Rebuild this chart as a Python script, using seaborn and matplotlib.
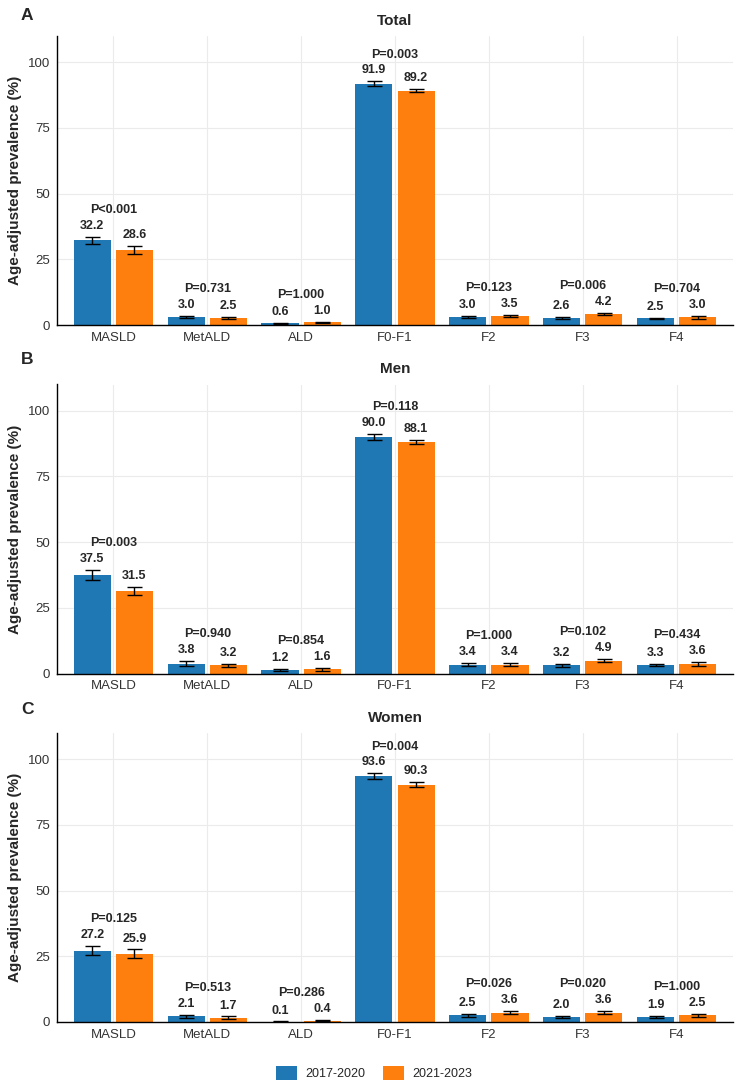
import numpy as np
import pandas as pd
import matplotlib
matplotlib.use("Agg")
import matplotlib.pyplot as plt
from matplotlib.patches import Patch
import seaborn as sns

# data
categories = ["MASLD", "MetALD", "ALD", "F0-F1", "F2", "F3", "F4"]
periods = ["2017-2020", "2021-2023"]
panels = ["Total", "Men", "Women"]
letters = ["A", "B", "C"]

total_early = [32.2, 3.0, 0.6, 91.9, 3.0, 2.6, 2.5]
total_late = [28.6, 2.5, 1.0, 89.2, 3.5, 4.2, 3.0]
total_err_early = [1.4, 0.5, 0.3, 0.8, 0.5, 0.4, 0.3]
total_err_late = [1.5, 0.4, 0.3, 0.6, 0.4, 0.4, 0.6]
total_p = ["P<0.001", "P=0.731", "P=1.000", "P=0.003", "P=0.123", "P=0.006", "P=0.704"]

men_early = [37.5, 3.8, 1.2, 90.0, 3.4, 3.2, 3.3]
men_late = [31.5, 3.2, 1.6, 88.1, 3.4, 4.9, 3.6]
men_err_early = [1.8, 0.8, 0.4, 1.0, 0.6, 0.6, 0.5]
men_err_late = [1.6, 0.6, 0.5, 0.9, 0.6, 0.7, 0.7]
men_p = ["P=0.003", "P=0.940", "P=0.854", "P=0.118", "P=1.000", "P=0.102", "P=0.434"]

women_early = [27.2, 2.1, 0.1, 93.6, 2.5, 2.0, 1.9]
women_late = [25.9, 1.7, 0.4, 90.3, 3.6, 3.6, 2.5]
women_err_early = [1.7, 0.6, 0.1, 1.0, 0.5, 0.4, 0.5]
women_err_late = [1.7, 0.4, 0.2, 0.9, 0.6, 0.5, 0.6]
women_p = ["P=0.125", "P=0.513", "P=0.286", "P=0.004", "P=0.026", "P=0.020", "P=1.000"]

colors = ["#1F77B4", "#FF7F0E"]

panel_data = {
    "Total": (total_early, total_late, total_err_early, total_err_late, total_p),
    "Men": (men_early, men_late, men_err_early, men_err_late, men_p),
    "Women": (women_early, women_late, women_err_early, women_err_late, women_p),
}

sns.set_style("white")
plt.rcParams["font.family"] = ["Liberation Sans", "DejaVu Sans"]

fig = plt.figure(figsize=(7.38, 10.87), dpi=100)
W, H = 738, 1087
tops = [36, 384.5, 733]
letter_y = [15, 360, 710]
ax_h = 289

for i, name in enumerate(panels):
    early, late, err_e, err_l, pvals = panel_data[name]
    top = tops[i]
    ax = fig.add_axes([57 / W, 1 - (top + ax_h) / H, (733 - 57) / W, ax_h / H])

    df = pd.DataFrame({
        "category": categories * 2,
        "period": [periods[0]] * 7 + [periods[1]] * 7,
        "value": early + late,
    })
    sns.barplot(data=df, x="category", y="value", hue="period", order=categories,
                hue_order=periods, palette=colors, saturation=1, width=0.9, gap=0.12,
                errorbar=None, linewidth=0, legend=False, ax=ax, zorder=2)

    uppers = []
    for cont, vals, errs in zip(ax.containers, [early, late], [err_e, err_l]):
        xs = np.array([b.get_x() + b.get_width() / 2 for b in cont])
        vals = np.array(vals)
        errs = np.array(errs)
        ax.errorbar(xs, vals, yerr=errs, fmt="none", ecolor="black", elinewidth=1.0,
                    capsize=5.4, capthick=1.0, zorder=3)
        for x, v, e in zip(xs, vals, errs):
            ax.annotate(f"{v:.1f}", xy=(x, v + e), xytext=(0, 7.9), textcoords="offset points",
                        ha="center", va="center", fontsize=9, fontweight="bold")
        uppers.append(vals + errs)
    top_err = np.maximum(uppers[0], uppers[1])
    for k, p in enumerate(pvals):
        ax.annotate(p, xy=(k, top_err[k]), xytext=(0, 19.4), textcoords="offset points",
                    ha="center", va="center", fontsize=9, fontweight="bold")

    ax.set_xlim(-0.6, 6.6)
    ax.set_ylim(0, 110)
    ax.set_yticks([0, 25, 50, 75, 100])
    ax.grid(True, color="#EBEBEB", linewidth=0.8, zorder=0)
    ax.set_axisbelow(True)
    for s in ["top", "right"]:
        ax.spines[s].set_visible(False)
    for s in ["left", "bottom"]:
        ax.spines[s].set_color("black")
        ax.spines[s].set_linewidth(1.0)
    ax.tick_params(axis="both", length=3, width=0.8, color="#333333",
                   labelcolor="#333333", labelsize=9.5, pad=2)
    ax.set_xlabel("")
    ax.set_ylabel("Age-adjusted prevalence (%)", fontsize=11, fontweight="bold", labelpad=4)
    ax.set_title(name, fontsize=11, fontweight="bold", pad=8)
    fig.text(27 / W, 1 - letter_y[i] / H, letters[i], fontsize=12.5, fontweight="bold",
             ha="center", va="center")

handles = [Patch(facecolor=c, edgecolor="none", label=p) for c, p in zip(colors, periods)]
fig.legend(handles=handles, loc="center", bbox_to_anchor=(374 / W, 1 - 1073 / H), ncol=2,
           frameon=False, fontsize=9, handlelength=1.68, handleheight=1.44,
           handletextpad=0.64, columnspacing=1.44)

fig.savefig("out.png", dpi=100)
